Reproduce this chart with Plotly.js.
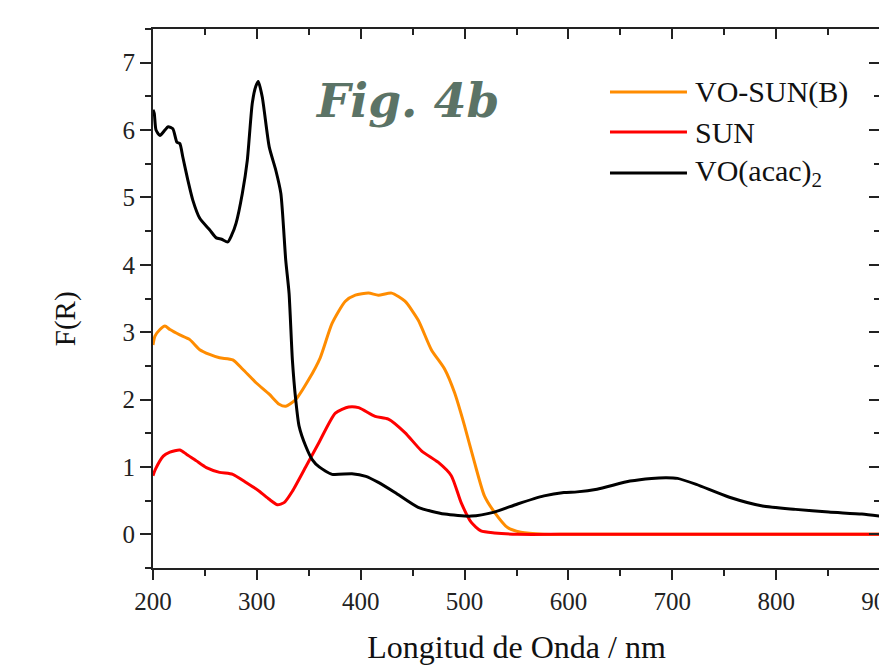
<!DOCTYPE html>
<html>
<head>
<meta charset="utf-8">
<script src="https://cdn.plot.ly/plotly-3.0.1.min.js"></script>
<style>
html,body{margin:0;padding:0;overflow:hidden;background:#fff;}
#chart{width:890px;height:665px;}
</style>
</head>
<body>
<div id="chart"></div>
<script>
// Series names
const seriesNames = ["VO-SUN(B)", "SUN", "VO(acac)<sub>2</sub>"];
const seriesColors = ["#ff8c00", "#ff0000", "#000000"];

// VO-SUN(B)
const orangeX = [200, 201.9, 206.7, 211.5, 216.3, 225.8, 235.4, 245, 254.5, 264.1, 276.8, 286.4, 299.2, 311.9, 321.5, 327.9, 337.4, 350.1, 361, 372.4, 385.2, 394.8, 407.5, 417, 429.8, 442.6, 455.3, 468, 480.9, 490.4, 500, 509.5, 519.1, 528.7, 541.4, 554.1, 576, 600, 900];
const orangeY = [2.81, 2.94, 3.04, 3.09, 3.04, 2.96, 2.89, 2.74, 2.67, 2.62, 2.59, 2.45, 2.25, 2.08, 1.93, 1.90, 2.0, 2.30, 2.62, 3.13, 3.46, 3.55, 3.58, 3.55, 3.58, 3.46, 3.18, 2.74, 2.45, 2.10, 1.61, 1.07, 0.57, 0.33, 0.10, 0.03, 0.0, 0.0, 0.0];

// SUN
const redX = [200, 202.5, 209.9, 216.3, 225.8, 232.2, 241.8, 251.4, 264.1, 276.8, 289.6, 302.3, 311.9, 319.8, 326.2, 334.2, 347, 359.7, 375.6, 388.4, 398, 413.9, 426.6, 442.6, 458.5, 474.5, 487.2, 496.7, 506.3, 515.8, 528.7, 551, 600, 900];
const redY = [0.87, 0.97, 1.16, 1.22, 1.25, 1.19, 1.09, 0.99, 0.92, 0.89, 0.77, 0.64, 0.52, 0.44, 0.47, 0.64, 1.0, 1.36, 1.80, 1.89, 1.88, 1.75, 1.71, 1.51, 1.24, 1.07, 0.87, 0.47, 0.18, 0.05, 0.02, 0.0, 0.0, 0.0];

// VO(acac)2
const blackX = [200, 201.2, 202.9, 206.7, 211.5, 214.6, 219.1, 223, 225.8, 228.7, 233.5, 238.3, 245, 254.5, 260.9, 266, 272, 276, 280, 286, 290.8, 295.6, 299, 301.4, 305.2, 311.9, 318.3, 323.1, 327.8, 331, 334.2, 337.4, 340.6, 347, 353.3, 360, 372.4, 391.5, 405, 417, 433, 455.3, 480.9, 506.3, 528.7, 551, 576.5, 595.6, 608.3, 627.5, 659.3, 680, 694.4, 705, 723.1, 755, 786.9, 818.7, 850.6, 882.5, 900];
const blackY = [6.3, 6.25, 6.0, 5.92, 6.0, 6.05, 6.02, 5.82, 5.8, 5.6, 5.26, 4.96, 4.69, 4.52, 4.4, 4.38, 4.34, 4.45, 4.62, 5.06, 5.55, 6.4, 6.65, 6.72, 6.49, 5.75, 5.4, 5.06, 4.07, 3.58, 2.59, 2.0, 1.61, 1.31, 1.11, 1.0, 0.89, 0.9, 0.86, 0.77, 0.62, 0.40, 0.30, 0.27, 0.33, 0.45, 0.57, 0.62, 0.63, 0.67, 0.79, 0.83, 0.84, 0.83, 0.74, 0.55, 0.42, 0.37, 0.33, 0.30, 0.27];

// Axis ticks
const xTickVals = [200, 300, 400, 500, 600, 700, 800, 900];
const yTickVals = [0, 1, 2, 3, 4, 5, 6, 7];

const serif = "Liberation Serif, Times New Roman, serif";
const axCol = "#222";

const lineStyle = (i) => ({color: seriesColors[i], width: 3, shape: "spline", smoothing: 0.6});
const traces = [
  {x: orangeX, y: orangeY, name: seriesNames[0], mode: "lines", line: lineStyle(0)},
  {x: redX, y: redY, name: seriesNames[1], mode: "lines", line: lineStyle(1)},
  {x: blackX, y: blackY, name: seriesNames[2], mode: "lines", line: lineStyle(2), xaxis: "x2", yaxis: "y2"}
];

const baseX = {
  range: [200, 900], showgrid: false, zeroline: false, fixedrange: true,
  tickvals: xTickVals, linecolor: axCol, linewidth: 2, tickcolor: axCol, tickwidth: 2, showline: true
};
const baseY = {
  range: [-0.5, 7.5], showgrid: false, zeroline: false, fixedrange: true,
  tickvals: yTickVals, linecolor: axCol, linewidth: 2, tickcolor: axCol, tickwidth: 2, showline: true
};

// Legend drawn as paper-positioned samples + labels
const legY = [0.8831, 0.8089, 0.7328];
const legShapes = seriesNames.map((n, i) => ({
  type: "line", xref: "paper", yref: "paper", x0: 0.6286, x1: 0.7345, y0: legY[i], y1: legY[i],
  line: {color: seriesColors[i], width: 3}
}));
const legTexts = seriesNames.map((n, i) => ({
  xref: "paper", yref: "paper", x: 0.7428, y: legY[i], xanchor: "left", yanchor: "middle",
  text: n, showarrow: false, font: {family: serif, size: 30, color: "#111"}
}));

const layout = {
  width: 890, height: 665,
  margin: {l: 153, r: 10, t: 29, b: 97},
  paper_bgcolor: "#fff", plot_bgcolor: "#fff",
  font: {family: serif, color: "#222"},
  showlegend: false,
  xaxis: Object.assign({}, baseX, {
    ticks: "outside", ticklen: 10, anchor: "y",
    minor: {dtick: 50, ticks: "outside", ticklen: 6, tickcolor: axCol, tickwidth: 2},
    tickfont: {family: serif, size: 25, color: "#222"}, ticklabeloverflow: "allow",
    title: {text: "Longitud de Onda / nm", font: {family: serif, size: 32, color: "#111"}, standoff: 22}
  }),
  xaxis2: Object.assign({}, baseX, {
    overlaying: "x", side: "top", anchor: "y2", ticks: "inside", ticklen: 10,
    showticklabels: false,
    minor: {dtick: 50, ticks: "inside", ticklen: 6, tickcolor: axCol, tickwidth: 2}
  }),
  yaxis: Object.assign({}, baseY, {
    ticks: "outside", ticklen: 11, anchor: "x",
    minor: {dtick: 0.5, ticks: "outside", ticklen: 6, tickcolor: axCol, tickwidth: 2},
    tickfont: {family: serif, size: 25, color: "#222"}
  }),
  yaxis2: Object.assign({}, baseY, {
    overlaying: "y", side: "right", anchor: "x2", ticks: "inside", ticklen: 11,
    showticklabels: false,
    minor: {dtick: 0.5, ticks: "inside", ticklen: 6, tickcolor: axCol, tickwidth: 2}
  }),
  shapes: legShapes,
  annotations: [{
    xref: "paper", yref: "paper", x: 0.349, y: 0.868, xanchor: "center", yanchor: "middle",
    text: "Fig. 4b", showarrow: false,
    font: {family: "DejaVu Serif, serif", size: 47, weight: "bold", style: "italic", color: "#5b7366"}
  }, {
    xref: "paper", yref: "paper", x: -0.12, y: 0.463, xanchor: "center", yanchor: "middle",
    text: "F(R)", showarrow: false, textangle: -90,
    font: {family: serif, size: 29, color: "#111"}
  }].concat(legTexts)
};

Plotly.newPlot("chart", traces, layout, {staticPlot: true, displayModeBar: false});
</script>
</body>
</html>
